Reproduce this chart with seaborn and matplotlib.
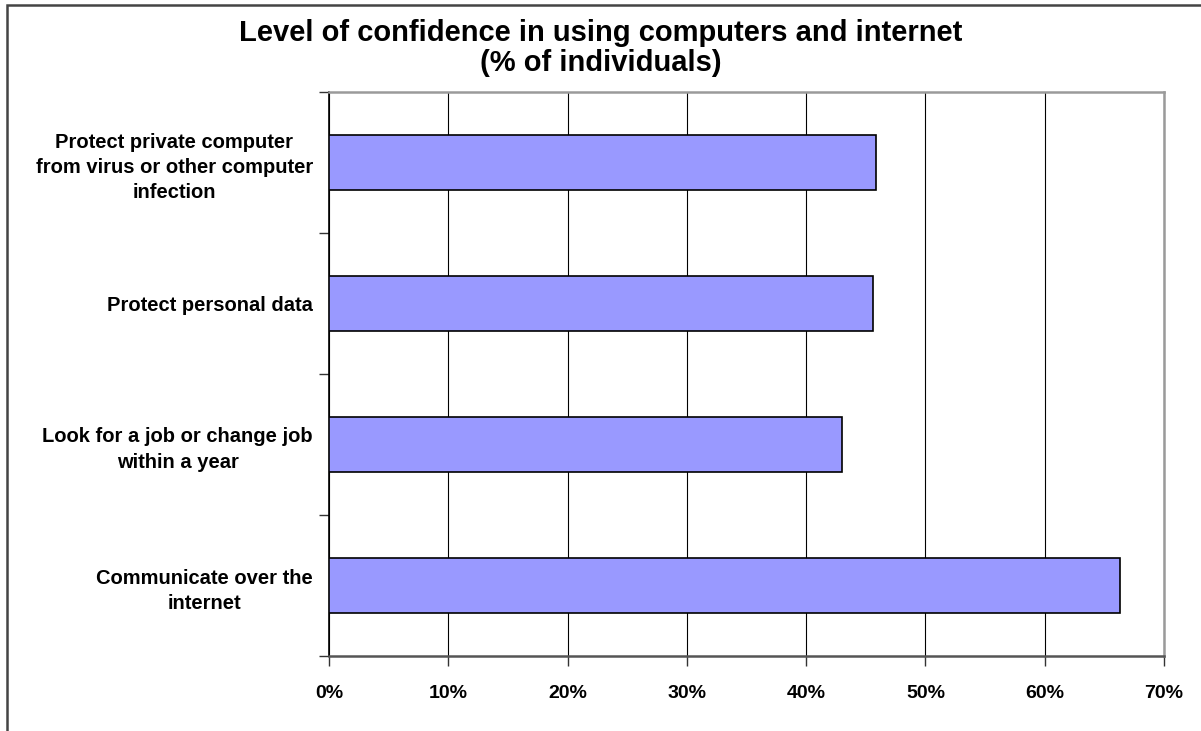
import numpy as np
import pandas as pd
import seaborn as sns
from matplotlib import pyplot as plt
from matplotlib.patches import Rectangle
from matplotlib.ticker import FixedLocator, PercentFormatter

# Du lieu doc tu hinh
categories = [
    "Protect private computer\nfrom virus or other computer\ninfection",
    "Protect personal data",
    "Look for a job or change job\nwithin a year",
    "Communicate over the\ninternet",
]
values = [45.85, 45.6, 43.0, 66.3]
x_ticks = [0, 10, 20, 30, 40, 50, 60, 70]
title = "Level of confidence in using computers and internet\n(% of individuals)"

df = pd.DataFrame({"category": categories, "value": values})

sns.set_style("white")
plt.rcParams['font.family'] = ['Liberation Sans', 'DejaVu Sans']
plt.rcParams['font.weight'] = 'bold'
plt.rcParams['text.color'] = 'black'
plt.rcParams['xtick.labelcolor'] = 'black'
plt.rcParams['ytick.labelcolor'] = 'black'

W, H = 1201, 731
fig = plt.figure(figsize=(W / 100, H / 100), dpi=100)
ax = fig.add_axes([329 / W, 1 - 656 / H, (1164 - 329) / W, (656 - 92) / H])

sns.barplot(data=df, x="value", y="category", orient="h", color="#9999FF",
            saturation=1, edgecolor="black", linewidth=1.2, width=0.39, ax=ax, zorder=3)

ax.set_xlim(0, 70)
ax.set_xticks(x_ticks)
ax.xaxis.set_major_formatter(PercentFormatter(decimals=0))
ax.grid(axis="x", color="black", linewidth=0.8, zorder=0)
ax.set_axisbelow(True)
ax.set_xlabel("")
ax.set_ylabel("")

# tick y o ranh gioi giua cac nhom
ax.yaxis.set_minor_locator(FixedLocator(np.arange(-0.5, len(categories), 1.0)))
ax.tick_params(axis="y", which="major", length=0, pad=11.5, labelsize=14.5)
ax.tick_params(axis="y", which="minor", length=7, width=1, color="#333333", direction="out", left=True)
ax.tick_params(axis="x", which="major", length=7, width=1, color="#333333", direction="out",
               bottom=True, pad=14, labelsize=14)
for lab in ax.get_yticklabels():
    lab.set_multialignment("center")
    lab.set_fontweight("bold")
    lab.set_linespacing(1.42)
for lab in ax.get_xticklabels():
    lab.set_fontweight("bold")

ax.spines["left"].set_color("black")
ax.spines["left"].set_linewidth(1.2)
ax.spines["bottom"].set_color("#555555")
ax.spines["bottom"].set_linewidth(1.8)
for s in ["top", "right"]:
    ax.spines[s].set_color("#9a9a9a")
    ax.spines[s].set_linewidth(1.8)

fig.text(600.5 / W, 1 - 19 / H, title, ha="center", va="top", fontsize=21,
         fontweight="bold", linespacing=1.1)

# khung ngoai cua bieu do
fig.patches.append(Rectangle((7 / W, -0.1), 1.2, 1 - 5 / H + 0.1, transform=fig.transFigure,
                             facecolor="none", edgecolor="#444444", linewidth=1.8))

fig.savefig("out.png", dpi=100)
